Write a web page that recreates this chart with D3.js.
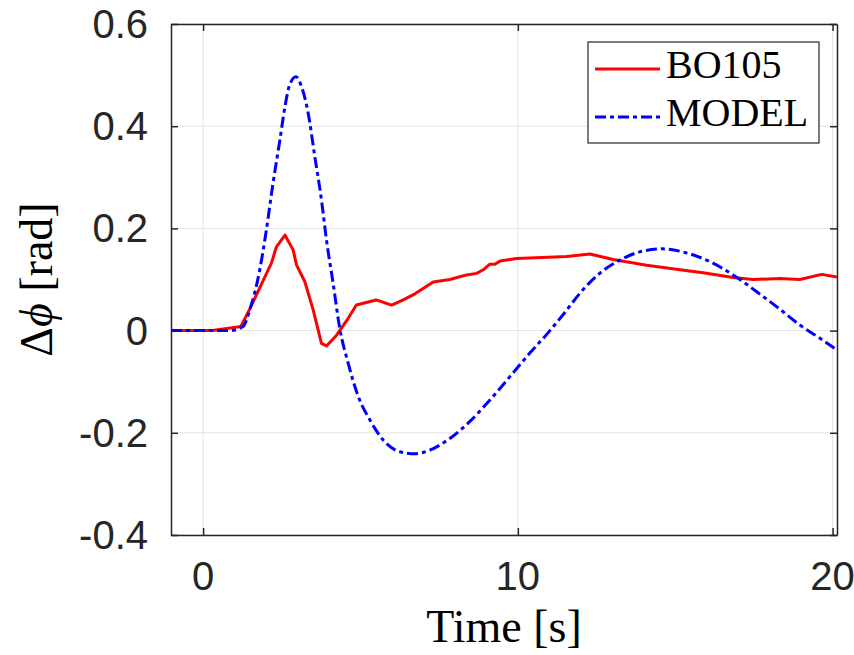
<!DOCTYPE html>
<html>
<head>
<meta charset="utf-8">
<script src="https://cdn.jsdelivr.net/npm/d3@7"></script>
<style>
  body { margin: 0; background: #fff; }
  .tick-label { font-family: "Liberation Sans", Arial, sans-serif; font-size: 40px; fill: #262626; }
  .serif { font-family: "Liberation Serif", "Times New Roman", serif; fill: #000; }
</style>
</head>
<body>
<div class="container"></div>
<script>
// BO105 flight data
var bo105Time = [-1.02, 0.3, 1.2, 1.48, 2.17, 2.33, 2.6, 2.86, 2.97, 3.23, 3.5, 3.76, 3.92, 4.24, 4.61, 4.87,
  5.5, 5.99, 6.36, 6.73, 7.31, 7.84, 8.37, 8.69, 8.9, 9.11, 9.27, 9.43, 9.96, 11.55, 12.29, 13.03, 14.09,
  15.15, 15.89, 16.84, 17.48, 18.33, 18.96, 19.65, 20.14];
var bo105Phi = [0, 0, 0.008, 0.042, 0.132, 0.164, 0.187, 0.158, 0.128, 0.096, 0.04, -0.025, -0.03, -0.009, 0.024, 0.05,
  0.06, 0.05, 0.06, 0.072, 0.095, 0.1, 0.109, 0.112, 0.119, 0.13, 0.13, 0.136, 0.141, 0.145, 0.15, 0.139, 0.128,
  0.119, 0.113, 0.104, 0.1, 0.102, 0.1, 0.11, 0.105];

// model response
var modelTime = [-1.02, 0.85, 1.27, 1.48, 1.8, 2.01, 2.22, 2.44, 2.6, 2.75, 2.95, 3.13, 3.34, 3.55, 3.76, 3.92,
  4.13, 4.34, 4.61, 4.93, 5.3, 5.72, 6.25, 6.73, 7.2, 7.84, 8.47, 9.11, 9.75, 10.38, 11.02, 11.5, 11.97, 12.6,
  13.24, 13.87, 14.61, 15.36, 16.1, 16.84, 17.59, 18.22, 18.96, 19.6, 20.14];
var modelPhi = [0, 0, 0.008, 0.04, 0.119, 0.197, 0.288, 0.373, 0.438, 0.481, 0.497, 0.477, 0.425, 0.34, 0.256, 0.177,
  0.093, 0.005, -0.064, -0.129, -0.175, -0.214, -0.237, -0.241, -0.234, -0.211, -0.178, -0.136, -0.09, -0.044, 0, 0.036, 0.073, 0.112,
  0.138, 0.154, 0.16, 0.152, 0.135, 0.109, 0.076, 0.047, 0.011, -0.015, -0.038];

var xTicks = [0, 10, 20];
var yTicks = [-0.4, -0.2, 0, 0.2, 0.4, 0.6];
var yTickLabels = ["-0.4", "-0.2", "0", "0.2", "0.4", "0.6"];
var seriesNames = ["BO105", "MODEL"];

var W = 854, H = 655;
var margin = {left: 171, right: 837, top: 24, bottom: 535};

var svg = d3.select(".container").append("svg")
  .attr("width", W)
  .attr("height", H);

var x = d3.scaleLinear().domain([-1.02, 20.14]).range([margin.left, margin.right]);
var y = d3.scaleLinear().domain([-0.4, 0.6]).range([margin.bottom, margin.top]);

// grid
svg.append("g").selectAll("line").data(xTicks).join("line")
  .attr("x1", d => x(d)).attr("x2", d => x(d))
  .attr("y1", margin.top).attr("y2", margin.bottom)
  .attr("stroke", "#e3e3e3").attr("stroke-width", 1);
svg.append("g").selectAll("line").data(yTicks).join("line")
  .attr("x1", margin.left).attr("x2", margin.right)
  .attr("y1", d => y(d)).attr("y2", d => y(d))
  .attr("stroke", "#e3e3e3").attr("stroke-width", 1);

// box axes with inward ticks
var tl = 7;
svg.append("g").attr("transform", "translate(0," + margin.bottom + ")")
  .call(d3.axisBottom(x).tickValues(xTicks).tickSizeInner(-tl).tickSizeOuter(0).tickFormat(""));
svg.append("g").attr("transform", "translate(0," + margin.top + ")")
  .call(d3.axisTop(x).tickValues(xTicks).tickSizeInner(-tl).tickSizeOuter(0).tickFormat(""));
svg.append("g").attr("transform", "translate(" + margin.left + ",0)")
  .call(d3.axisLeft(y).tickValues(yTicks).tickSizeInner(-tl).tickSizeOuter(0).tickFormat(""));
svg.append("g").attr("transform", "translate(" + margin.right + ",0)")
  .call(d3.axisRight(y).tickValues(yTicks).tickSizeInner(-tl).tickSizeOuter(0).tickFormat(""));
svg.selectAll(".domain, .tick line").attr("stroke", "#262626").attr("stroke-width", 1.5);

// tick labels
svg.append("g").selectAll("text").data(xTicks).join("text")
  .attr("class", "tick-label")
  .attr("x", d => x(d)).attr("y", 590)
  .attr("text-anchor", "middle")
  .text(d => d);
svg.append("g").selectAll("text").data(yTicks).join("text")
  .attr("class", "tick-label")
  .attr("x", 148).attr("y", d => y(d) + 14)
  .attr("text-anchor", "end")
  .text((d, i) => yTickLabels[i]);

// axis labels
svg.append("text")
  .attr("class", "serif")
  .attr("x", (margin.left + margin.right) / 2).attr("y", 642)
  .attr("text-anchor", "middle")
  .style("font-size", "46px")
  .text("Time [s]");

var yl = svg.append("text")
  .attr("class", "serif")
  .attr("transform", "translate(52," + ((margin.top + margin.bottom) / 2) + ") rotate(-90)")
  .attr("text-anchor", "middle")
  .style("font-size", "46px");
yl.append("tspan").text("Δ");
yl.append("tspan").style("font-style", "italic").text("ϕ");
yl.append("tspan").text(" [rad]");

// lines
svg.append("clipPath").attr("id", "clip")
  .append("rect").attr("x", margin.left).attr("y", margin.top)
  .attr("width", margin.right - margin.left).attr("height", margin.bottom - margin.top);

var bo105 = bo105Time.map((t, i) => [t, bo105Phi[i]]);
var model = modelTime.map((t, i) => [t, modelPhi[i]]);

svg.append("path")
  .datum(bo105)
  .attr("clip-path", "url(#clip)")
  .attr("fill", "none")
  .attr("stroke", "#ff0000")
  .attr("stroke-width", 3)
  .attr("stroke-linejoin", "round")
  .attr("d", d3.line().x(d => x(d[0])).y(d => y(d[1])));

svg.append("path")
  .datum(model)
  .attr("clip-path", "url(#clip)")
  .attr("fill", "none")
  .attr("stroke", "#0000ff")
  .attr("stroke-width", 3)
  .attr("stroke-dasharray", "11,4,4,4")
  .attr("d", d3.line().curve(d3.curveMonotoneX).x(d => x(d[0])).y(d => y(d[1])));

// legend
svg.append("rect")
  .attr("x", 588).attr("y", 42)
  .attr("width", 231).attr("height", 101)
  .attr("fill", "#fff")
  .attr("stroke", "#262626")
  .attr("stroke-width", 1.2);

var legColors = ["#ff0000", "#0000ff"];
var legDash = [null, "11,4,4,4"];
seriesNames.forEach(function(name, i) {
  var ly = 69 + i * 48;
  svg.append("line")
    .attr("x1", 595).attr("x2", 660)
    .attr("y1", ly).attr("y2", ly)
    .attr("stroke", legColors[i])
    .attr("stroke-width", 3)
    .attr("stroke-dasharray", legDash[i]);
  svg.append("text")
    .attr("class", "serif")
    .attr("x", 666).attr("y", ly + 9)
    .style("font-size", "40px")
    .text(name);
});
</script>
</body>
</html>
